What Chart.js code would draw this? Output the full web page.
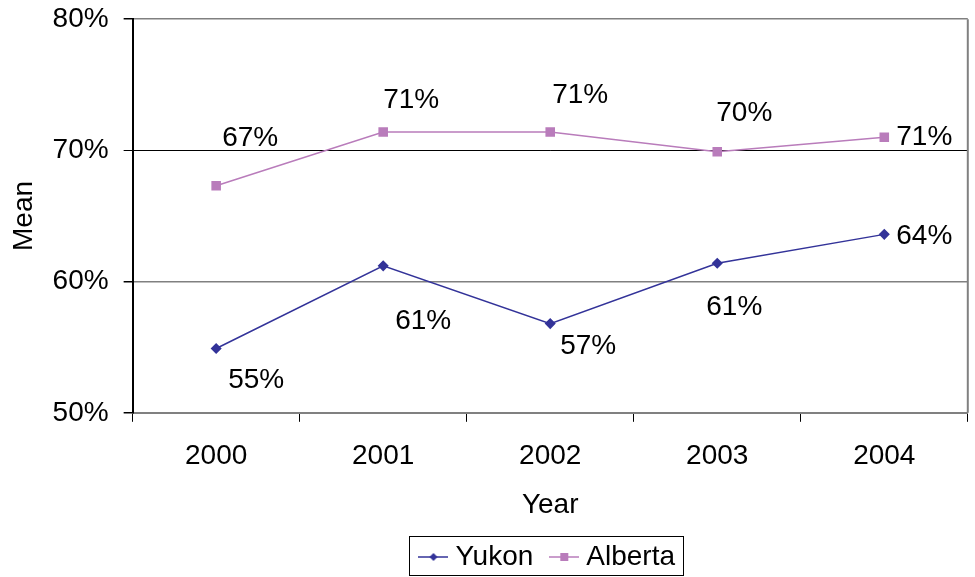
<!DOCTYPE html>
<html><head><meta charset="utf-8">
<script src="https://cdn.jsdelivr.net/npm/chart.js@4.4.0/dist/chart.umd.min.js"></script>
<style>html,body{margin:0;padding:0;background:#fff;} #wrap{width:975px;height:577px;position:relative;}</style>
</head><body><div id="wrap"><canvas id="c"></canvas></div>
<script>
const years = ['2000', '2001', '2002', '2003', '2004'];
const yukon = [54.9, 61.2, 56.8, 61.4, 63.6];
const alberta = [67.3, 71.4, 71.4, 69.9, 71.0];
const seriesNames = ['Yukon', 'Alberta'];
const yMin = 50, yMax = 80, yStep = 10;

const FONT = 'Liberation Sans, Arial, sans-serif';
const FS = 28;
const colYukon = '#333399';
const colAlberta = '#B97CBB';

function legendImg(color, shape) {
  const c = document.createElement('canvas');
  c.width = 30; c.height = 14;
  const g = c.getContext('2d');
  g.strokeStyle = color; g.lineWidth = 1.5;
  g.beginPath(); g.moveTo(0, 7); g.lineTo(30, 7); g.stroke();
  g.fillStyle = color;
  g.beginPath();
  if (shape === 'diamond') {
    g.moveTo(15, 3); g.lineTo(19, 7); g.lineTo(15, 11); g.lineTo(11, 7); g.closePath();
  } else {
    g.rect(11, 3, 8, 8);
  }
  g.fill();
  return c;
}
const legendImgs = [legendImg(colYukon, 'diamond'), legendImg(colAlberta, 'square')];

// label placement (style): offsets from point
const labelOffsets = [
  [[40, 32], [40, 55], [38, 23], [17, 44], [40, 2]],
  [[34, -48], [28, -32], [30, -37], [27, -38], [40, 0]]
];

const labelPlugin = {
  id: 'pointLabels',
  afterDatasetsDraw(chart) {
    const ctx = chart.ctx;
    ctx.save();
    ctx.font = FS + 'px ' + FONT;
    ctx.fillStyle = '#000';
    ctx.textAlign = 'center';
    ctx.textBaseline = 'middle';
    chart.data.datasets.forEach((ds, di) => {
      const meta = chart.getDatasetMeta(di);
      meta.data.forEach((pt, i) => {
        const off = labelOffsets[di][i];
        ctx.fillText(Math.round(ds.data[i]) + '%', pt.x + off[0], pt.y + off[1]);
      });
    });
    ctx.restore();
  }
};

const framePlugin = {
  id: 'frame',
  afterDraw(chart) {
    const ctx = chart.ctx, a = chart.chartArea;
    ctx.save();
    ctx.strokeStyle = '#808080';
    ctx.lineWidth = 2;
    ctx.beginPath();
    ctx.moveTo(a.right, a.top); ctx.lineTo(a.right, a.bottom);
    ctx.stroke();
    const hb = chart.legend.legendHitBoxes;
    if (hb && hb.length) {
      let l = Infinity, r = -Infinity, t = Infinity, b = -Infinity;
      hb.forEach(h => { l = Math.min(l, h.left); r = Math.max(r, h.left + h.width); t = Math.min(t, h.top); b = Math.max(b, h.top + h.height); });
      ctx.strokeStyle = '#000';
      ctx.lineWidth = 1;
      const x0 = Math.round(l - 16) + 0.5, y0 = Math.round(t - 7) + 0.5;
      const x1 = Math.round(r + 8) + 0.5, y1 = Math.round(b + 4) + 0.5;
      ctx.strokeRect(x0, y0, x1 - x0, y1 - y0);
    }
    ctx.restore();
  }
};

new Chart(document.getElementById('c'), {
  type: 'line',
  data: {
    labels: years,
    datasets: [
      { label: seriesNames[0], data: yukon, borderColor: colYukon, backgroundColor: colYukon,
        borderWidth: 1.5, pointStyle: 'rectRot', pointRadius: 4.5, pointHoverRadius: 4.5, tension: 0 },
      { label: seriesNames[1], data: alberta, borderColor: colAlberta, backgroundColor: colAlberta,
        borderWidth: 1.5, pointStyle: 'rect', pointRadius: 5.7, pointHoverRadius: 5.7, tension: 0 }
    ]
  },
  options: {
    responsive: true,
    maintainAspectRatio: false,
    animation: false,
    layout: { padding: { top: 1, right: 6, left: 0, bottom: -4 } },
    font: { family: FONT },
    plugins: {
      tooltip: { enabled: false },
      legend: {
        position: 'bottom',
        fullSize: false,
        labels: {
          usePointStyle: true,
          pointStyleWidth: 16,
          font: { family: FONT, size: FS },
          color: '#000',
          padding: 23,
          generateLabels: chart => chart.data.datasets.map((ds, i) => ({
            text: ds.label, pointStyle: legendImgs[i], fillStyle: ds.borderColor,
            strokeStyle: ds.borderColor, lineWidth: 0, hidden: false, datasetIndex: i, fontColor: '#000'
          }))
        }
      }
    },
    scales: {
      x: {
        offset: true,
        grid: { display: true, drawOnChartArea: false, offset: true, tickLength: 9, tickColor: '#000', color: '#000' },
        border: { color: '#808080', width: 2 },
        ticks: { font: { family: FONT, size: FS }, color: '#000', padding: 18 },
        title: { display: true, text: 'Year', font: { family: FONT, size: FS }, color: '#000', padding: { top: -3, bottom: -2 } }
      },
      y: {
        min: yMin, max: yMax,
        grid: {
          color: c => (c.tick && c.tick.value === 70) ? '#000' : '#808080',
          lineWidth: c => (c.tick && c.tick.value === 70) ? 1 : 1.5,
          tickColor: '#000', tickLength: 9
        },
        border: { color: '#000', width: 2 },
        ticks: { stepSize: yStep, font: { family: FONT, size: FS, lineHeight: 0.3 }, color: '#000', padding: 15,
          callback: v => v + '%' },
        title: { display: true, text: 'Mean', font: { family: FONT, size: FS }, color: '#000', padding: { top: 7, bottom: -3 } }
      }
    }
  },
  plugins: [labelPlugin, framePlugin]
});
</script>
</body></html>
